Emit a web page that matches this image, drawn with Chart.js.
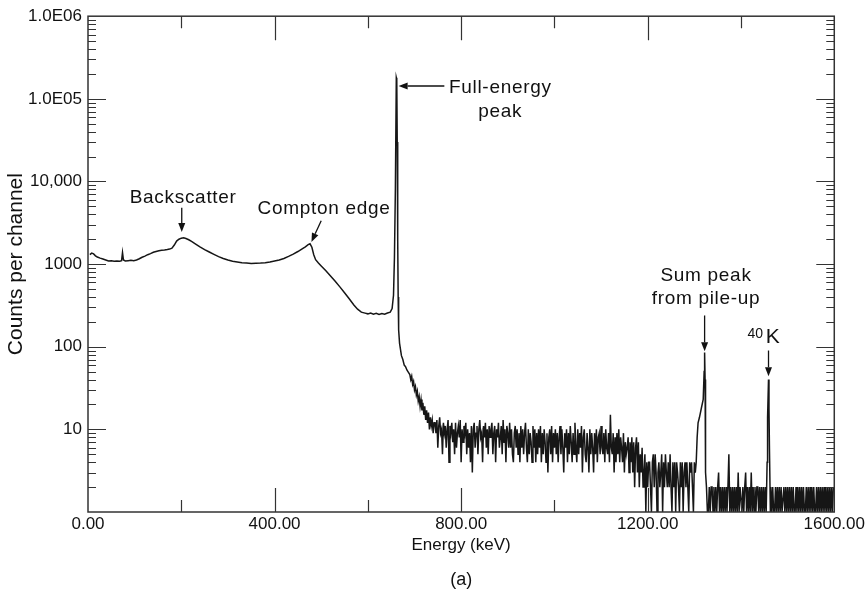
<!DOCTYPE html>
<html><head><meta charset="utf-8">
<script src="https://cdn.jsdelivr.net/npm/chart.js@4.4.1/dist/chart.umd.min.js"></script>
<style>html,body{margin:0;padding:0;background:#fff;}canvas{display:block;}</style>
</head><body>
<canvas id="c" width="867" height="597"></canvas>
<script>
// ---------------- DATA ----------------
// Continuum + full-energy peak (keV, counts per channel)
const continuumKeV = [4,8,12,16,20,26,32,38,44,50,56,62,68,72,74,76,80,86,92,98,104,110,116,122,128,134,140,146,152,158,164,170,175,180,185,190,195,200,205,210,216,222,230,240,250,260,270,280,290,300,310,320,330,340,350,360,370,380,390,400,410,420,430,440,450,460,466,472,476,480,484,488,494,500,510,520,530,540,550,560,570,578,586,594,600,606,612,618,624,630,636,642,648,652,655,657,659,661,662,663,664,665,666,668,672,675,678,681,684,687,690,692,694,696,698,700,702,704,706,708,710,712,714,716,718,720,722,724,726,728,730,732,734,736,738,740,742];
const continuumCounts = [1300,1360,1330,1260,1220,1180,1150,1120,1090,1095,1080,1090,1085,1100,1380,1120,1090,1100,1110,1100,1120,1160,1210,1250,1300,1340,1390,1420,1450,1470,1480,1500,1520,1560,1700,1900,2000,2060,2080,2040,1970,1880,1760,1620,1500,1400,1310,1230,1170,1120,1080,1060,1040,1030,1020,1025,1030,1040,1060,1090,1120,1170,1240,1320,1420,1540,1620,1720,1760,1600,1300,1130,1030,950,830,720,620,530,450,380,320,285,262,255,250,256,248,254,246,252,248,256,262,290,420,1200,8000,180000,170000,30000,2000,400,160,110,78,70,60,57,52,49,46,40,44,35,38,30,33,26,29,22,25,19,23,17,21,15,19,13,17,12,16,10,14,11,13,9,12];

// Noisy tail between the photopeak and the sum peak (2 keV channels)
const tailKeV = [
744,746,748,750,752,754,756,758,760,762,
764,766,768,770,772,774,776,778,780,782,
784,786,788,790,792,794,796,798,800,802,
804,806,808,810,812,814,816,818,820,822,
824,826,828,830,832,834,836,838,840,842,
844,846,848,850,852,854,856,858,860,862,
864,866,868,870,872,874,876,878,880,882,
884,886,888,890,892,894,896,898,900,902,
904,906,908,910,912,914,916,918,920,922,
924,926,928,930,932,934,936,938,940,942,
944,946,948,950,952,954,956,958,960,962,
964,966,968,970,972,974,976,978,980,982,
984,986,988,990,992,994,996,998,1000,1002,
1004,1006,1008,1010,1012,1014,1016,1018,1020,1022,
1024,1026,1028,1030,1032,1034,1036,1038,1040,1042,
1044,1046,1048,1050,1052,1054,1056,1058,1060,1062,
1064,1066,1068,1070,1072,1074,1076,1078,1080,1082,
1084,1086,1088,1090,1092,1094,1096,1098,1100,1102,
1104,1106,1108,1110,1112,1114,1116,1118,1120,1122,
1124,1126,1128,1130,1132,1134,1136,1138,1140,1142,
1144,1146,1148,1150,1152,1154,1156,1158,1160,1162,
1164,1166,1168,1170,1172,1174,1176,1178,1180,1182,
1184,1186,1188,1190,1192,1194,1196,1198,1200,1202,
1204,1206,1208,1210,1212,1214,1216,1218,1220,1222,
1224,1226,1228,1230,1232,1234,1236,1238,1240,1242,
1244,1246,1248,1250,1252,1254,1256,1258,1260,1262,
1264,1266,1268,1270,1272,1274,1276,1278,1280,1282,
1284,1286,1288,1290,1292,1294,1296,1298,1300];
const tailCounts = [
12,9,13,6,11,14,9,10,5,12,
9,11,6,10,13,4,11,9,12,7,
10,5,12,6,9,11,8,13,4,10,
7,11,9,12,5,10,6,9,4,11,
3,10,12,6,9,11,5,10,13,8,
9,4,11,8,12,6,10,5,11,8,
10,12,5,9,11,4,10,8,12,6,
8,11,5,13,7,10,4,11,9,6,
12,6,10,5,4,9,11,6,10,5,
9,4,11,6,10,5,9,12,6,4,
10,5,9,7,4,11,6,10,4,9,
5,10,6,11,4,9,5,10,7,4,
9,3,8,10,5,11,4,9,6,10,
5,9,4,8,11,5,10,6,3,9,
6,10,4,9,5,11,7,4,9,5,
12,6,4,10,5,9,6,11,3,8,
10,5,4,9,6,3,10,5,9,6,
3,9,5,10,4,8,9,5,11,6,
5,9,4,10,6,5,9,4,15,6,
5,9,3,8,4,9,5,10,4,8,
6,4,9,3,7,5,6,8,3,7,
4,8,3,7,2,6,8,3,7,2,
5,3,6,2,3,5,1,4,2,4,
4,2,1,4,5,2,5,3,1,3,
4,2,3,5,1,4,2,5,3,2,
4,2,5,2,1,4,2,4,1,4,
3,2,1,4,2,4,1,3,4,2,
4,2,1,4,3,4,2,1,4];

// Sum peak, 40K peak and high-energy background
const highKeV = [
1302,1304,1306,1308,1311,1315,1319,1321,1322,1323,1324,
1326,1328,1330,1332,1334,1336,1338,1340,1342,1344,
1346,1348,1350,1352,1354,1356,1358,1360,1362,1364,
1366,1368,1370,1372,1374,1376,1378,1380,1382,1384,
1386,1388,1390,1392,1394,1396,1398,1400,1402,1404,
1406,1408,1410,1412,1414,1416,1418,1420,1422,1424,
1426,1428,1430,1432,1434,1436,1438,1440,1442,1444,
1446,1448,1450,1452,1454,
1456,1457,1459,1460,1461,1463,
1464,1466,1468,1470,1472,1474,1476,1478,1480,1482,
1484,1486,1488,1490,1492,1494,1496,1498,1500,1502,
1504,1506,1508,1510,1512,1514,1516,1518,1520,1522,
1524,1526,1528,1530,1532,1534,1536,1538,1540,1542,
1544,1546,1548,1550,1552,1554,1556,1558,1560,1562,
1564,1566,1568,1570,1572,1574,1576,1578,1580,1582,
1584,1586,1588,1590,1592,1594,1596,1598];
const highCounts = [
3,4,8,12,14,18,23,50,85,40,3,
2,1,1,2,1,2,2,1,2,1,
2,1,2,3,1,2,1,2,1,2,
1,2,1,2,5,1,2,1,2,1,
2,1,2,1,3,1,2,2,1,2,
1,2,3,1,2,1,2,1,3,1,
2,1,2,1,2,2,1,2,1,2,
1,2,1,2,1,
4,14,40,18,6,1,
2,1,2,1,1,2,1,2,1,2,
1,2,1,1,2,1,2,1,2,1,
2,1,2,1,2,1,1,2,1,2,
1,2,1,2,1,2,1,1,2,1,
2,1,2,1,2,1,2,1,1,2,
1,2,1,2,1,2,1,2,1,2,
1,2,1,2,1,2,1,2];

// Axis ticks
const xTickValues = [0, 400, 800, 1200, 1600];
const xTickLabels = ['0.00', '400.00', '800.00', '1200.00', '1600.00'];
const xMarkValues = [200, 400, 600, 800, 1000, 1200, 1400];
const yTickValues = [1, 10, 100, 1000, 10000, 100000, 1000000];
const yTickLabels = ['', '10', '100', '1000', '10,000', '1.0E05', '1.0E06'];

// ---------------- CHART ----------------
const FONT = "'Liberation Sans', Arial, Helvetica, sans-serif";
const INK = '#111';

function toPoints(es, cs) {
  if (es.length !== cs.length) throw new Error('length mismatch ' + es.length + ' vs ' + cs.length);
  return es.map((e, i) => ({x: e, y: cs[i]}));
}
const points = [].concat(
  toPoints(continuumKeV, continuumCounts),
  toPoints(tailKeV, tailCounts),
  toPoints(highKeV, highCounts)
);

const notes = [
  {lines: ['Backscatter'], e: 204, v: 5530},
  {lines: ['Compton edge'], e: 506, v: 4070},
  {lines: ['Full-energy', 'peak'], e: 884, v: 117800, lineGap: 24},
  {lines: ['Sum peak', 'from pile-up'], e: 1325, v: 632, lineGap: 23}
];
const arrows = [
  {from: [201, 4800], to: [201, 2450]},
  {from: [500, 3350], to: [479, 1850]},
  {from: [764, 142900], to: [666, 142900]},
  {from: [1322, 239], to: [1322, 88]},
  {from: [1459, 90], to: [1459, 44]}
];

const framePlugin = {
  id: 'frame',
  afterDatasetsDraw(chart) {
    const {ctx, chartArea: a, scales: {x, y}} = chart;
    ctx.save();
    ctx.strokeStyle = '#333';
    ctx.lineWidth = 1.5;
    ctx.strokeRect(a.left, a.top, a.right - a.left, a.bottom - a.top);
    ctx.lineWidth = 1.2;
    ctx.beginPath();
    for (const e of xMarkValues) {
      const px = Math.round(x.getPixelForValue(e)) + 0.5;
      const len = (e % 400 === 0) ? 24 : 12;
      ctx.moveTo(px, a.bottom); ctx.lineTo(px, a.bottom - len);
      ctx.moveTo(px, a.top); ctx.lineTo(px, a.top + len);
    }
    for (let k = 0; k < yTickValues.length; k++) {
      const d = yTickValues[k];
      const py = Math.round(y.getPixelForValue(d)) + 0.5;
      if (k > 0 && k < yTickValues.length - 1) {
        ctx.moveTo(a.left, py); ctx.lineTo(a.left + 18, py);
        ctx.moveTo(a.right, py); ctx.lineTo(a.right - 18, py);
      }
      if (k < yTickValues.length - 1) {
        for (let m = 2; m <= 9; m++) {
          const pm = Math.round(y.getPixelForValue(m * d)) + 0.5;
          ctx.moveTo(a.left, pm); ctx.lineTo(a.left + 8, pm);
          ctx.moveTo(a.right, pm); ctx.lineTo(a.right - 8, pm);
        }
      }
    }
    ctx.stroke();
    ctx.restore();
  }
};

const notePlugin = {
  id: 'notes',
  afterDraw(chart) {
    const {ctx, scales: {x, y}} = chart;
    ctx.save();
    ctx.fillStyle = INK;
    ctx.strokeStyle = INK;
    ctx.textBaseline = 'alphabetic';
    ctx.letterSpacing = '0.7px';
    for (const n of notes) {
      ctx.font = '19px ' + FONT;
      ctx.textAlign = 'center';
      const px = x.getPixelForValue(n.e);
      const py = y.getPixelForValue(n.v);
      n.lines.forEach((t, i) => ctx.fillText(t, px, py + i * (n.lineGap || 0)));
    }
    // 40K label
    ctx.textAlign = 'left';
    ctx.letterSpacing = '0px';
    ctx.font = '14px ' + FONT;
    ctx.fillText('40', x.getPixelForValue(1414), y.getPixelForValue(126));
    ctx.font = '21px ' + FONT;
    ctx.fillText('K', x.getPixelForValue(1453), y.getPixelForValue(110));
    // arrows
    ctx.lineWidth = 1.3;
    for (const ar of arrows) {
      const x1 = x.getPixelForValue(ar.from[0]), y1 = y.getPixelForValue(ar.from[1]);
      const x2 = x.getPixelForValue(ar.to[0]), y2 = y.getPixelForValue(ar.to[1]);
      const ang = Math.atan2(y2 - y1, x2 - x1);
      const L = 9, W = 3.5;
      const bx = x2 - L * Math.cos(ang), by = y2 - L * Math.sin(ang);
      ctx.beginPath(); ctx.moveTo(x1, y1); ctx.lineTo(bx, by); ctx.stroke();
      ctx.beginPath();
      ctx.moveTo(x2, y2);
      ctx.lineTo(bx + W * Math.sin(ang), by - W * Math.cos(ang));
      ctx.lineTo(bx - W * Math.sin(ang), by + W * Math.cos(ang));
      ctx.closePath(); ctx.fill();
    }
    ctx.restore();
  }
};

Chart.defaults.font.family = FONT;
Chart.defaults.color = INK;

new Chart(document.getElementById('c'), {
  type: 'line',
  data: {
    datasets: [{
      data: points,
      borderColor: '#161616',
      borderWidth: 1.5,
      pointRadius: 0,
      tension: 0,
      fill: false
    }]
  },
  options: {
    responsive: false,
    animation: false,
    layout: {padding: {top: 15, right: 31, left: 0, bottom: 0}},
    plugins: {
      legend: {display: false},
      tooltip: {enabled: false},
      title: {
        display: true, position: 'bottom', fullSize: false, text: '(a)', color: INK,
        font: {size: 18, weight: 'normal', family: FONT},
        padding: {top: 0, bottom: 6}
      }
    },
    scales: {
      x: {
        type: 'linear', min: 0, max: 1600,
        afterBuildTicks: s => { s.ticks = xTickValues.map(v => ({value: v})); },
        afterFit: s => { s.height = 57.4; },
        grid: {display: false, drawTicks: false},
        border: {display: false},
        ticks: {
          font: {size: 17}, color: INK, padding: 2, maxRotation: 0, autoSkip: false,
          callback: v => xTickLabels[xTickValues.indexOf(v)]
        },
        title: {display: true, text: 'Energy (keV)', color: INK, font: {size: 17}, padding: {top: 0, bottom: 14}}
      },
      y: {
        type: 'logarithmic', min: 1, max: 1000000,
        afterBuildTicks: s => { s.ticks = yTickValues.map(v => ({value: v})); },
        afterFit: s => { s.width = 88; },
        grid: {display: false, drawTicks: false},
        border: {display: false},
        ticks: {
          font: {size: 17}, color: INK, padding: 6, autoSkip: false,
          callback: v => yTickLabels[yTickValues.indexOf(v)]
        },
        title: {display: true, text: 'Counts per channel', color: INK, font: {size: 21}, padding: {top: 4, bottom: 4}}
      }
    }
  },
  plugins: [framePlugin, notePlugin]
});
</script>
</body></html>
